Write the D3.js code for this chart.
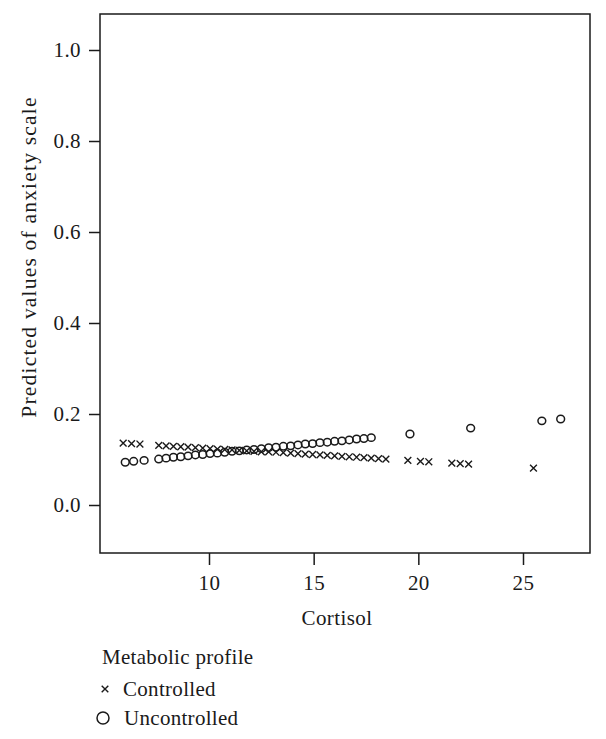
<!DOCTYPE html>
<html>
<head>
<meta charset="utf-8">
<script src="https://cdn.jsdelivr.net/npm/d3@7"></script>
<style>
  html, body { margin: 0; padding: 0; background: #fff; }
  svg text { font-family: "Liberation Serif", "DejaVu Serif", serif; fill: #1a1a1a; }
</style>
</head>
<body>
<svg id="chart" width="606" height="739"></svg>
<script>
// ---- data ----
const controlledCortisol = [5.9, 6.3, 6.7, 7.6, 7.95, 8.3, 8.65, 9.0, 9.35, 9.7, 10.05, 10.4, 10.75, 11.1, 11.45, 11.8, 12.15, 12.5, 12.85, 13.2, 13.55, 13.9, 14.25, 14.6, 14.95, 15.3, 15.65, 16.0, 16.35, 16.7, 17.05, 17.4, 17.75, 18.1, 18.45, 19.5, 20.1, 20.5, 21.6, 22.0, 22.4, 25.5];
const controlledPred = [0.136, 0.135, 0.134, 0.131, 0.130, 0.129, 0.128, 0.127, 0.126, 0.125, 0.124, 0.123, 0.122, 0.121, 0.120, 0.119, 0.118, 0.117, 0.117, 0.116, 0.115, 0.114, 0.113, 0.112, 0.111, 0.110, 0.109, 0.108, 0.107, 0.106, 0.105, 0.104, 0.103, 0.102, 0.101, 0.098, 0.096, 0.095, 0.092, 0.091, 0.090, 0.081];
const uncontrolledCortisol = [6.0, 6.4, 6.9, 7.6, 7.95, 8.3, 8.65, 9.0, 9.35, 9.7, 10.05, 10.4, 10.75, 11.1, 11.45, 11.8, 12.15, 12.5, 12.85, 13.2, 13.55, 13.9, 14.25, 14.6, 14.95, 15.3, 15.65, 16.0, 16.35, 16.7, 17.05, 17.4, 17.75, 19.6, 22.5, 25.9, 26.8];
const uncontrolledPred = [0.094, 0.096, 0.098, 0.101, 0.103, 0.105, 0.106, 0.108, 0.110, 0.111, 0.113, 0.114, 0.116, 0.118, 0.119, 0.121, 0.122, 0.124, 0.126, 0.127, 0.129, 0.130, 0.132, 0.134, 0.135, 0.137, 0.138, 0.140, 0.141, 0.143, 0.145, 0.146, 0.148, 0.156, 0.169, 0.185, 0.189];
const xTicks = [10, 15, 20, 25];
const yTicks = [0.0, 0.2, 0.4, 0.6, 0.8, 1.0];
const xTitle = "Cortisol";
const yTitle = "Predicted values of anxiety scale";
const legendTitle = "Metabolic profile";
const seriesNames = ["Controlled", "Uncontrolled"];

// ---- layout ----
const svg = d3.select("#chart");
const frame = { left: 100, right: 590, top: 14, bottom: 553 };
const x = d3.scaleLinear().domain([10, 25]).range([209, 523]);
const y = d3.scaleLinear().domain([0, 1]).range([505, 50]);
const ink = "#1a1a1a";
const fs = 21;

// frame
svg.append("rect")
  .attr("x", frame.left).attr("y", frame.top)
  .attr("width", frame.right - frame.left).attr("height", frame.bottom - frame.top)
  .attr("fill", "none").attr("stroke", ink).attr("stroke-width", 1.5);

// x axis
const xAxis = d3.axisBottom(x).tickValues(xTicks).tickFormat(d3.format("d"))
  .tickSize(12).tickPadding(10);
const gx = svg.append("g").attr("transform", `translate(0,${frame.bottom})`).call(xAxis);
gx.select(".domain").remove();
gx.selectAll(".tick line").attr("stroke", ink).attr("stroke-width", 1.5);
gx.selectAll(".tick text").attr("font-size", fs).attr("font-family", "Liberation Serif")
  .attr("letter-spacing", 0.4).attr("fill", ink);

// y axis
const yAxis = d3.axisLeft(y).tickValues(yTicks).tickFormat(d3.format(".1f"))
  .tickSize(11).tickPadding(8);
const gy = svg.append("g").attr("transform", `translate(${frame.left},0)`).call(yAxis);
gy.select(".domain").remove();
gy.selectAll(".tick line").attr("stroke", ink).attr("stroke-width", 1.5);
gy.selectAll(".tick text").attr("font-size", fs).attr("font-family", "Liberation Serif")
  .attr("letter-spacing", 0.4).attr("fill", ink);

// axis titles
svg.append("text").attr("x", (frame.left + frame.right) / 2 - 8).attr("y", 625)
  .attr("text-anchor", "middle").attr("font-size", fs).attr("letter-spacing", 0.4).text(xTitle);
svg.append("text").attr("transform", `translate(36,257) rotate(-90)`)
  .attr("text-anchor", "middle").attr("font-size", 21.5).attr("letter-spacing", 1.2).text(yTitle);

// markers
function xMark(sel, s) {
  sel.append("path")
    .attr("d", `M${-s},${-s}L${s},${s}M${-s},${s}L${s},${-s}`)
    .attr("stroke", ink).attr("stroke-width", 1.4).attr("fill", "none");
}
function oMark(sel, rx, ry) {
  sel.append("ellipse").attr("rx", rx).attr("ry", ry)
    .attr("fill", "none").attr("stroke", ink).attr("stroke-width", 1.5);
}

const ctrl = controlledCortisol.map((c, i) => ({ c, v: controlledPred[i] }));
const unc = uncontrolledCortisol.map((c, i) => ({ c, v: uncontrolledPred[i] }));

svg.append("g").selectAll("g").data(ctrl).join("g")
  .attr("transform", d => `translate(${x(d.c)},${y(d.v)})`)
  .each(function () { xMark(d3.select(this), 3.4); });

svg.append("g").selectAll("g").data(unc).join("g")
  .attr("transform", d => `translate(${x(d.c)},${y(d.v)})`)
  .each(function () { oMark(d3.select(this), 3.9, 3.7); });

// legend
svg.append("text").attr("x", 102).attr("y", 664).attr("font-size", fs).attr("letter-spacing", 0.3).text(legendTitle);
const lg1 = svg.append("g").attr("transform", "translate(105,689)");
xMark(lg1, 3.3);
svg.append("text").attr("x", 123).attr("y", 696).attr("font-size", fs).attr("letter-spacing", 0.3).text(seriesNames[0]);
const lg2 = svg.append("g").attr("transform", "translate(103,718)");
oMark(lg2, 6, 6);
svg.append("text").attr("x", 124).attr("y", 725).attr("font-size", fs).attr("letter-spacing", 0.3).text(seriesNames[1]);
</script>
</body>
</html>
